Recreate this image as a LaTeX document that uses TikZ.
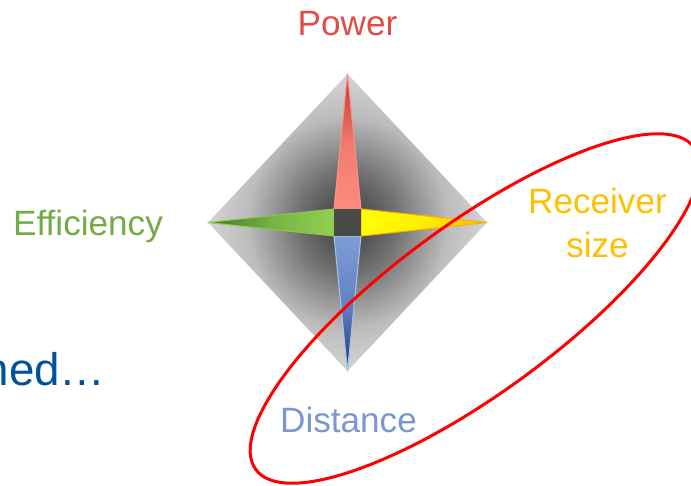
\documentclass[tikz,border=0pt]{standalone}
\usepackage{fontspec}
\setmainfont{Liberation Sans}

\definecolor{powerred}{RGB}{226,76,72}
\definecolor{effgreen}{RGB}{112,173,71}
\definecolor{recgold}{RGB}{255,192,0}
\definecolor{distblue}{RGB}{124,150,206}
\definecolor{navytext}{RGB}{0,82,155}

\pgfdeclareradialshading{diamondglow}{\pgfpoint{0bp}{0bp}}{color(0bp)=(black!78); color(9bp)=(black!55); color(18bp)=(black!26); color(25bp)=(black!17); color(50bp)=(black!17)}

\begin{document}
\begin{tikzpicture}[x=0.02cm,y=-0.02cm,line cap=round,line join=round,
  lbl/.style={font=\fontsize{20}{25}\selectfont,inner sep=0pt}]
  \useasboundingbox (0,0) rectangle (691,485);
  \clip (0,0) rectangle (691,485);
  \coordinate (O) at (347.5,222.5);
  % grey diamond
  \shade[shading=diamondglow] (347.5,74) -- (487,222.5) -- (347.5,371) -- (208,222.5) -- cycle;
  % arms
  \shadedraw[draw={rgb,255:red,250;green,145;blue,130},line width=0.6pt,
    top color={rgb,255:red,190;green,50;blue,45},bottom color={rgb,255:red,252;green,140;blue,125},
    middle color={rgb,255:red,242;green,122;blue,108}]
    (347.5,74) -- (361,209) -- (334,209) -- cycle;
  \shadedraw[draw={rgb,255:red,140;green,200;blue,75},line width=0.6pt,
    left color={rgb,255:red,60;green,120;blue,40},right color={rgb,255:red,146;green,208;blue,80},
    middle color={rgb,255:red,118;green,178;blue,68}]
    (208,222.5) -- (334,209) -- (334,236) -- cycle;
  \shadedraw[draw={rgb,255:red,250;green,180;blue,0},line width=0.6pt,
    left color={rgb,255:red,255;green,255;blue,0},right color={rgb,255:red,255;green,185;blue,0},
    middle color={rgb,255:red,255;green,238;blue,0}]
    (361,209) -- (487,222.5) -- (361,236) -- cycle;
  \shadedraw[draw={rgb,255:red,160;green,195;blue,230},line width=0.6pt,
    top color={rgb,255:red,126;green,156;blue,214},bottom color={rgb,255:red,30;green,55;blue,120},
    middle color={rgb,255:red,100;green,130;blue,195}]
    (334,236) -- (361,236) -- (347.5,371) -- cycle;
  \fill[black!71] (334,209) rectangle (361,236);
  % red ring
  \draw[red,line width=1.7pt,rotate around={36.3:(475,308.5)}] (475,308.5) ellipse [x radius=272,y radius=84];
  % labels
  \node[lbl,text=powerred,anchor=base] (power) at (347.5,35) {Power};
  \node[lbl,text=effgreen,anchor=base] (eff) at (88,235) {Efficiency};
  \node[lbl,text=recgold,align=center] (rec) at (597.5,222.5) {Receiver\\size};
  \node[lbl,text=distblue,anchor=base] (dist) at (348.5,432) {Distance};
  \node[inner sep=0pt,font=\fontsize{26}{30}\selectfont,text=navytext,anchor=base east] (ned) at (106,385) {ned…};
\end{tikzpicture}
\end{document}
